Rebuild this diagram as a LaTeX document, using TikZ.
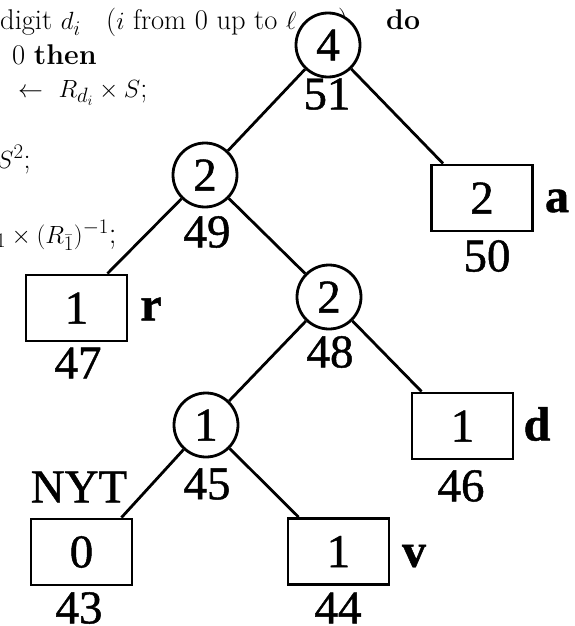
\documentclass[tikz,border=0pt]{standalone}
\usepackage{fontspec}
\newfontfamily\tnr[FakeBold=1]{Liberation Serif}
\usetikzlibrary{calc}
\begin{document}
\begin{tikzpicture}[x=1pt,y=-1pt,
  tfont/.style={font=\tnr\fontsize{47}{47}\selectfont},
  inode/.style={circle,draw,line width=2.8pt,fill=white,minimum size=64pt,inner sep=0pt,tfont},
  leaf/.style={rectangle,draw,line width=2.8pt,fill=white,minimum width=101pt,minimum height=66pt,inner sep=0pt,tfont},
  num/.style={inner sep=0pt,tfont},
  sym/.style={inner sep=0pt,font=\tnr\bfseries\fontsize{48}{48}\selectfont},
  edge/.style={line width=2.8pt},
  algo/.style={anchor=base west,inner sep=0pt,font=\fontsize{28.5}{30}\selectfont}]
\fill[white] (0,0) rectangle (575,626);
\useasboundingbox (0,0) rectangle (575,626);
% overlapping algorithm text
\node[algo] (t1) at (0,30) {digit $d_i$};
\node[algo] (t1b) at (106,30) {($i$ from 0 up to $\ell-1$)};
\node[algo] (t1c) at (386,30) {\textbf{do}};
\node[algo] (t2) at (12,64) {0 \textbf{then}};
\node[algo] (t3) at (18,97) {$\leftarrow\ R_{d_i}\times S$;};
\node[algo] (t4) at (-3,168) {$S^2$;};
\node[algo,font=\fontsize{31}{32}\selectfont] (t5) at (-4,243) {${}_1\times(R_{\bar 1})^{-1}$;};
% tree nodes
\node[inode] (n51) at (328,45) {4};
\node[inode] (n49) at (205,175) {2};
\node[inode] (n48) at (329,297) {2};
\node[inode] (n45) at (206,425) {1};
\node[leaf] (n50) at (482,198) {2};
\node[leaf] (n47) at (76.5,308) {1};
\node[leaf] (n46) at (462.5,426) {1};
\node[leaf] (n43) at (81.5,552) {0};
\node[leaf] (n44) at (338.5,551.5) {1};
% numbers
\node[num] (l51) at (327,94) {51};
\node[num] (l49) at (207,232) {49};
\node[num] (l50) at (487,256) {50};
\node[num] (l47) at (78,363) {47};
\node[num] (l48) at (330,352) {48};
\node[num] (l46) at (461,486) {46};
\node[num] (l45) at (207,484) {45};
\node[num] (l43) at (79,608) {43};
\node[num] (l44) at (338,608) {44};
\node[num] (nyt) at (79,487) {NYT};
% symbols
\node[sym] (sa) at (557,201) {a};
\node[sym] (sr) at (151,309) {r};
\node[sym] (sd) at (537,424) {d};
\node[sym] (sv) at (414,556) {v};
% edges
\draw[edge] (n51) -- (n49);
\draw[edge] (n51) -- ($(n50.north west)+(13,0)$);
\draw[edge] (n49) -- ($(n47.north east)+(-21,0)$);
\draw[edge] (n49) -- (n48);
\draw[edge] (n48) -- (n45);
\draw[edge] (n48) -- ($(n46.north west)+(11,0)$);
\draw[edge] (n45) -- ($(n43.north east)+(-12,0)$);
\draw[edge] (n45) -- ($(n44.north west)+(12,0)$);
\end{tikzpicture}
\end{document}
